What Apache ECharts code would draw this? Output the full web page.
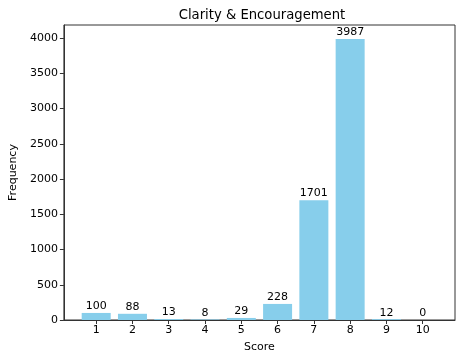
<!DOCTYPE html>
<html>
<head>
<meta charset="utf-8">
<script src="https://cdn.jsdelivr.net/npm/echarts@6/dist/echarts.min.js"></script>
<style>
  html, body { margin: 0; padding: 0; background: #fff; }
  #chart { width: 463px; height: 362px; }
</style>
</head>
<body>
<div id="chart"></div>
<script>
const scores = [1, 2, 3, 4, 5, 6, 7, 8, 9, 10]
const counts = [100, 88, 13, 8, 29, 228, 1701, 3987, 12, 0]
const yTicks = [0, 500, 1000, 1500, 2000, 2500, 3000, 3500, 4000]

const font = 'DejaVu Sans'
const chart = echarts.init(document.getElementById('chart'))

chart.setOption({
  animation: false,
  textStyle: { fontFamily: font },
  title: {
    text: 'Clarity & Encouragement',
    left: 257,
    textAlign: 'center',
    top: 4,
    textStyle: { fontFamily: font, fontSize: 13.2, fontWeight: 'normal', color: '#000' }
  },
  grid: {
    left: 58,
    right: 8,
    top: 25,
    bottom: 42,
    show: true,
    borderColor: '#333',
    borderWidth: 1
  },
  xAxis: {
    type: 'value',
    min: 0.11,
    max: 10.89,
    name: 'Score',
    nameLocation: 'middle',
    nameGap: 22,
    nameTextStyle: { fontSize: 11, color: '#000' },
    axisLine: { show: true, onZero: false, lineStyle: { color: '#333' } },
    axisTick: { show: true, length: 4, customValues: scores, lineStyle: { color: '#333' } },
    axisLabel: { customValues: scores, fontSize: 11, color: '#000', margin: 5 },
    splitLine: { show: false }
  },
  yAxis: {
    type: 'value',
    min: 0,
    max: 4186,
    name: 'Frequency',
    nameLocation: 'middle',
    nameGap: 43,
    nameTextStyle: { fontSize: 11, color: '#000' },
    axisLine: { show: true, lineStyle: { color: '#333' } },
    axisTick: { show: true, length: 4, customValues: yTicks, lineStyle: { color: '#333' } },
    axisLabel: { customValues: yTicks, fontSize: 11, color: '#000', margin: 6, formatter: (v) => String(v) },
    splitLine: { show: false }
  },
  series: [
    {
      type: 'bar',
      barWidth: 29,
      data: scores.map((s, i) => [s, counts[i]]),
      itemStyle: { color: '#87CEEB' },
      label: {
        show: true,
        position: 'top',
        distance: 1,
        fontSize: 11,
        color: '#000',
        formatter: (p) => p.value[1]
      }
    }
  ]
})
</script>
</body>
</html>
